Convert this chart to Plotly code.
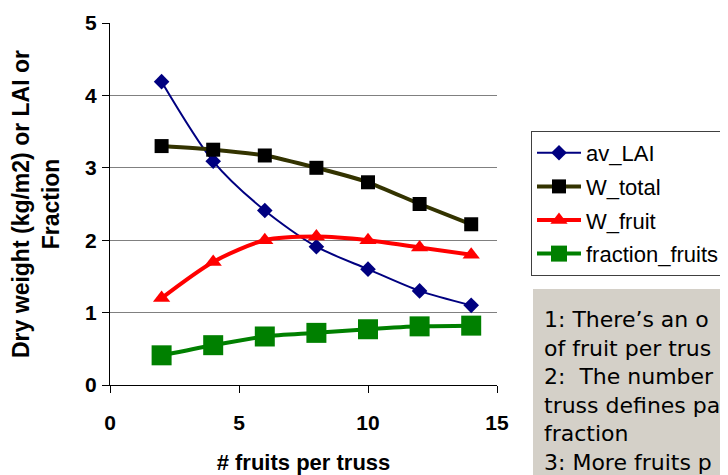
import plotly.graph_objects as go

x_vals = [2, 4, 6, 8, 10, 12, 14]
av_LAI = [4.19, 3.09, 2.41, 1.91, 1.60, 1.30, 1.10]
W_total = [3.30, 3.25, 3.17, 3.00, 2.80, 2.50, 2.22]
W_fruit = [1.20, 1.70, 2.00, 2.05, 2.00, 1.90, 1.80]
fraction_fruits = [0.41, 0.55, 0.67, 0.72, 0.77, 0.81, 0.82]

# visible part of the (cropped) note box
note_lines = [
    "1: There\u2019s an o",
    "of fruit per trus",
    "2:\u00a0 The number",
    "truss defines pa",
    "fraction",
    "3: More fruits p",
]

OFF = 8  # page body margin
W, H = 728 - OFF, 475 - OFF
L, T = 110 - OFF, 23 - OFF
pw, ph = 387, 362
R = W - L - pw
B = H - T - ph

def px_x(px):
    return (px - OFF - L) / pw

def px_y(py):
    return (T + ph - (py - OFF)) / ph

fig = go.Figure()
fig.add_trace(go.Scatter(x=x_vals, y=av_LAI, name="av_LAI", mode="lines+markers",
                         line=dict(color="#000080", width=2, shape="spline", smoothing=0.8),
                         marker=dict(symbol="diamond", size=12, color="#000080"),
                         legendgroup="a"))
fig.add_trace(go.Scatter(x=x_vals, y=W_total, name="W_total", mode="lines+markers",
                         line=dict(color="#333300", width=4, shape="spline", smoothing=0.5),
                         marker=dict(symbol="square", size=14, color="#000000"),
                         legendgroup="b"))
fig.add_trace(go.Scatter(x=x_vals, y=W_fruit, name="W_fruit", mode="lines+markers",
                         line=dict(color="#ff0000", width=4, shape="spline", smoothing=0.8),
                         marker=dict(symbol="triangle-up", size=15, color="#ff0000"),
                         legendgroup="c"))
fig.add_trace(go.Scatter(x=x_vals, y=fraction_fruits, name="fraction_fruits", mode="lines+markers",
                         line=dict(color="#008000", width=4, shape="spline", smoothing=0.8),
                         marker=dict(symbol="square", size=20, color="#008000"),
                         legendgroup="d"))

fig.add_shape(type="rect", xref="paper", yref="paper",
              x0=px_x(533), x1=px_x(800), y0=px_y(520), y1=px_y(289),
              fillcolor="#d4d0c8", line=dict(width=0), layer="below")

fig.add_annotation(xref="paper", yref="paper", x=px_x(542), y=px_y(305),
                   xanchor="left", yanchor="top", align="left", showarrow=False,
                   text="<br>".join(note_lines),
                   font=dict(family="DejaVu Sans, Verdana", size=22, color="#000000"))

fig.update_layout(
    width=W, height=H,
    margin=dict(l=L, r=R, t=T, b=B, pad=0, autoexpand=False),
    plot_bgcolor="white", paper_bgcolor="white",
    font=dict(family="Arial, Liberation Sans", color="#000000"),
    showlegend=True,
    legend=dict(x=px_x(531), y=px_y(131), xanchor="left", yanchor="top",
                bordercolor="#404040", borderwidth=1, bgcolor="white",
                font=dict(family="Arial, Liberation Sans", size=22),
                tracegroupgap=2, itemwidth=44),
    xaxis=dict(range=[0, 15], dtick=5, showgrid=False, showline=True, linecolor="black",
               linewidth=1, ticks="outside", ticklen=7, tickcolor="black", zeroline=False,
               automargin=False,
               tickfont=dict(size=21, weight="bold"),
               ticklabelstandoff=12,
               title=dict(text="<b># fruits per truss</b>", font=dict(size=22), standoff=22)),
    yaxis=dict(range=[0, 5], dtick=1, showgrid=True, gridcolor="#808080", gridwidth=1,
               showline=True, linecolor="black", linewidth=1, ticks="outside", ticklen=7,
               tickcolor="black", zeroline=False,
               automargin=False,
               tickfont=dict(size=21, weight="bold"),
               ticklabelstandoff=1,
               title=dict(text="<b>Dry weight (kg/m2) or LAI or<br>Fraction</b>",
                          font=dict(size=23), standoff=23)),
)

fig.write_html("out.html")
